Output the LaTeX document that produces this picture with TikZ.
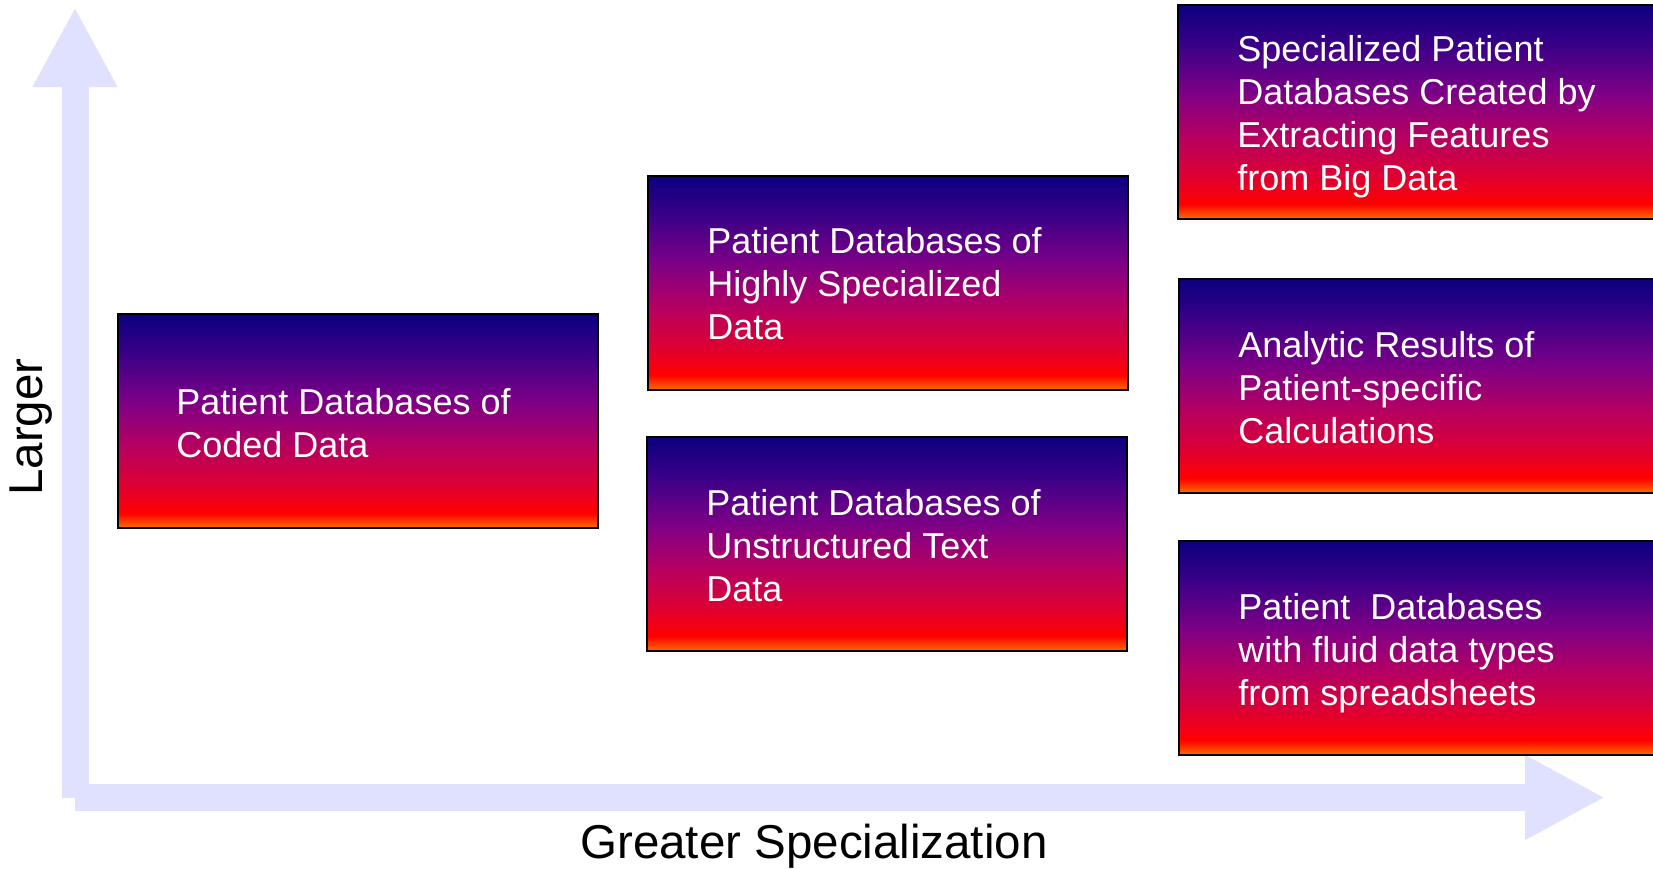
\documentclass[tikz,border=0pt]{standalone}
\usepackage{fontspec}
\setmainfont{Liberation Sans}
\usetikzlibrary{arrows.meta}
\definecolor{axiscol}{RGB}{224,224,255}
\definecolor{gA}{RGB}{255,110,0}
\definecolor{gB}{RGB}{255,0,0}
\definecolor{gC}{RGB}{222,0,50}
\definecolor{gD}{RGB}{178,0,100}
\definecolor{gE}{RGB}{122,0,135}
\definecolor{gF}{RGB}{62,0,135}
\definecolor{gG}{RGB}{10,0,128}
\pgfdeclareverticalshading{boxshade}{100bp}{color(0bp)=(gA); color(25bp)=(gA); color(28.5bp)=(gB); color(35bp)=(gC); color(45bp)=(gD); color(55bp)=(gE); color(65bp)=(gF); color(75bp)=(gG); color(100bp)=(gG)}
\tikzset{
  dbbox/.style={shade, shading=boxshade, draw=black, line width=1.6pt, minimum width=480pt, minimum height=214pt, inner sep=0pt},
  dbtext/.style={anchor=west, align=left, text=white, inner sep=0pt, font=\fontsize{36}{43}\selectfont},
  axisline/.style={draw=axiscol, line width=27pt, -{Triangle[length=80pt,width=79pt]}},
  axislabel/.style={font=\fontsize{47.5}{56}\selectfont, text=black, inner sep=0pt}
}
\begin{document}
\begin{tikzpicture}[x=1pt,y=-1pt]
\useasboundingbox (0,0) rectangle (1653,868);
% axes
\coordinate (orig) at (75,798);
\coordinate (ytop) at (75,7);
\coordinate (xorig) at (75,797.5);
\coordinate (xend) at (1605,797.5);
\draw[axisline] (orig) -- (ytop);
\draw[axisline] (xorig) -- (xend);
\node[axislabel, rotate=90] (ylab) at (31,427) {Larger};
\node[axislabel, anchor=base] (xlab) at (814,858) {Greater Specialization};
% boxes
\node[dbbox] (b1) at (358,421) {};
\node[dbbox] (b2) at (888,283) {};
\node[dbbox] (b3) at (887,544) {};
\node[dbbox] (b4) at (1418,112) {};
\node[dbbox] (b5) at (1419,386) {};
\node[dbbox] (b6) at (1419,648) {};
\node[dbtext] (t1) at ([xshift=59pt,yshift=-2pt]b1.west) {Patient Databases of\\Coded Data};
\node[dbtext] (t2) at ([xshift=60pt,yshift=-1pt]b2.west) {Patient Databases of\\Highly Specialized\\Data};
\node[dbtext] (t3) at ([xshift=60pt,yshift=-2pt]b3.west) {Patient Databases of\\Unstructured Text\\Data};
\node[dbtext] (t4) at ([xshift=60pt,yshift=-5pt]b4.west) {Specialized Patient\\Databases Created by\\Extracting Features\\from Big Data};
\node[dbtext] (t5) at ([xshift=60pt,yshift=-2pt]b5.west) {Analytic Results of\\Patient-specific\\Calculations};
\node[dbtext] (t6) at ([xshift=60pt,yshift=-5pt]b6.west) {Patient\ \ Databases\\with fluid data types\\from spreadsheets};
\end{tikzpicture}
\end{document}
